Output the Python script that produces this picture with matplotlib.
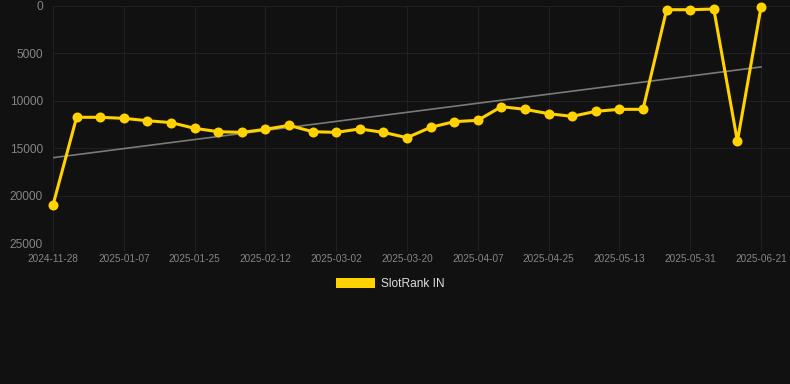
import matplotlib
matplotlib.use("Agg")
from matplotlib import pyplot as plt
from matplotlib.patches import Patch

# rank values per week (lower is better, axis is inverted)
rank_in = [21000, 11740, 11740, 11850, 12100, 12300, 12900, 13260, 13330, 13010,
           12590, 13260, 13330, 12970, 13330, 13890, 12800, 12200, 12060, 10620,
           10900, 11360, 11640, 11110, 10900, 10900, 390, 390, 320, 14270, 140]
tick_labels = ["2024-11-28", "2025-01-07", "2025-01-25", "2025-02-12", "2025-03-02",
               "2025-03-20", "2025-04-07", "2025-04-25", "2025-05-13", "2025-05-31",
               "2025-06-21"]
trend_ends = [16000, 6430]
y_ticks = [0, 5000, 10000, 15000, 20000, 25000]

bg = "#111111"
gold = "#FFD200"
grid_c = "#202020"
label_c = "#858585"

plt.rcParams["font.family"] = ["Liberation Sans", "DejaVu Sans"]

fig = plt.figure(figsize=(7.9, 3.84), dpi=100, facecolor=bg)
ax = fig.add_axes([53 / 790, 1 - 243 / 384, 1 - 53 / 790, (243 - 6) / 384])
ax.set_facecolor(bg)

n = len(rank_in)
xs = list(range(n))
ax.plot([0, n - 1], trend_ends, color="#7a7a7a", lw=1.2, zorder=2)
ax.plot(xs, rank_in, color=gold, lw=2.2, marker="o", ms=7.2,
        markeredgewidth=0, zorder=3, clip_on=False)

ax.set_xlim(0, (n - 1) + 29 / 23.6)
ax.set_ylim(25000, 0)
ax.set_yticks(y_ticks)
ax.set_yticklabels([str(v) for v in y_ticks])
ax.set_xticks(xs[::3])
ax.set_xticklabels(tick_labels)

ax.grid(True, color=grid_c, lw=0.8)
for s in ax.spines.values():
    s.set_visible(False)
ax.tick_params(axis="y", length=0, pad=7.2, labelsize=8.6, colors=label_c)
ax.tick_params(axis="x", length=5.8, width=0.8, color=grid_c, pad=2,
               labelsize=7.2, labelcolor=label_c)

fig.legend(handles=[Patch(facecolor=gold, edgecolor="none", label="SlotRank IN")],
           loc="center", bbox_to_anchor=(0.494, 1 - 284 / 384), frameon=False,
           fontsize=8.6, labelcolor="#dddddd", handlelength=3.33, handleheight=1.0,
           handletextpad=0.5)

fig.savefig("out.png", dpi=100, facecolor=bg)
